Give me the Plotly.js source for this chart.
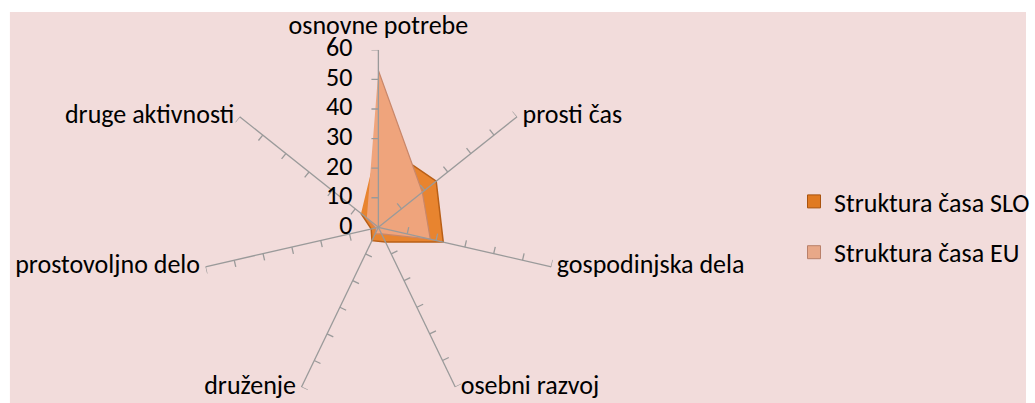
<!DOCTYPE html>
<html>
<head>
<meta charset="utf-8">
<script src="https://cdn.plot.ly/plotly-3.0.1.min.js"></script>
<style>
html,body{margin:0;padding:0;overflow:hidden;background:#fff;}
#chart{width:1035px;height:407px;}
</style>
</head>
<body>
<div id="chart"></div>
<script>
const categories = ['osnovne potrebe','prosti čas','gospodinjska dela','osebni razvoj','druženje','prostovoljno delo','druge aktivnosti'];
const sloValues = [29, 25, 22.5, 5.5, 5, 2.5, 7.5];
const euValues = [53, 19, 18, 2.5, 2.5, 1, 5];
const tickValues = [0, 10, 20, 30, 40, 50, 60];
const seriesNames = ['Struktura časa SLO', 'Struktura časa EU'];

const FONT = 'Carlito, Calibri, Lato, sans-serif';
const FS = 26;
const W = 1035, H = 407;
const cx = 381.7, cy = 227.3, R = 179;
const step = 360 / categories.length;
const thetas = categories.map((c, i) => i * step);
const rMax = tickValues[tickValues.length - 1];

// spokes
const spokeR = [], spokeT = [];
thetas.forEach(t => { spokeR.push(0, rMax, null); spokeT.push(t, t, null); });

// tick marks on every spoke (counterclockwise side)
const tickLen = 7 / R * rMax;
const tkR = [], tkT = [];
thetas.forEach(t => {
  tickValues.filter(v => v > 0).forEach(v => {
    tkR.push(v, Math.sqrt(v * v + tickLen * tickLen), null);
    tkT.push(t, t - Math.atan(tickLen / v) * 180 / Math.PI, null);
  });
});

// side of each category label relative to the spoke end
const labelPos = thetas.map(t => t < 1 ? 'top center' : (t < 180 ? 'middle right' : 'middle left'));
const labelGap = thetas.map(t => t < 1 ? 14 : 7);
const noMarker = {color:'rgba(0,0,0,0)', line:{width:0, color:'rgba(0,0,0,0)'}};

const traces = [
  {type:'scatterpolar', r: sloValues, theta: thetas, mode:'lines', fill:'toself',
   fillcolor:'#E8842F', line:{color:'#B95F17', width:1.5}, showlegend:false, hoverinfo:'skip'},
  {type:'scatterpolar', r: euValues, theta: thetas, mode:'lines', fill:'toself',
   fillcolor:'#EFA47C', line:{color:'#C9876A', width:1.2}, showlegend:false, hoverinfo:'skip'},
  {type:'scatterpolar', r: spokeR, theta: spokeT, mode:'lines', line:{color:'#9A9A9A', width:1.3},
   showlegend:false, hoverinfo:'skip'},
  {type:'scatterpolar', r: tkR, theta: tkT, mode:'lines', line:{color:'#9A9A9A', width:1.3},
   showlegend:false, hoverinfo:'skip'},
  // radial tick labels
  {type:'scatterpolar', r: tickValues, theta: tickValues.map(() => thetas[0]), mode:'markers+text',
   text: tickValues.map(String), textposition:'middle left',
   textfont:{family: FONT, size: FS, color:'#000'},
   marker: Object.assign({size:40}, noMarker), showlegend:false, hoverinfo:'skip', cliponaxis:false},
  // category labels
  {type:'scatterpolar', r: categories.map(() => rMax), theta: thetas, mode:'markers+text',
   text: categories, textposition: labelPos,
   textfont:{family: FONT, size: FS, color:'#000'},
   marker: Object.assign({size: labelGap}, noMarker), showlegend:false, hoverinfo:'skip', cliponaxis:false},
  {type:'scatterpolar', r:[null], theta:[null], mode:'markers', name: seriesNames[0], legendgroup:'a',
   marker:{symbol:'square', size:13, color:'#E07A22', line:{color:'#A9530F', width:1}}},
  {type:'scatterpolar', r:[null], theta:[null], mode:'markers', name: seriesNames[1], legendgroup:'b',
   marker:{symbol:'square', size:13, color:'#E8A888', line:{color:'#B9806A', width:1}}}
];

const layout = {
  width: W, height: H,
  margin:{l:0, r:0, t:0, b:0, pad:0},
  paper_bgcolor:'#ffffff',
  font:{family: FONT, size: FS, color:'#000'},
  showlegend:true,
  legend:{x: 801/W, xanchor:'left', y: 1 - 178/H, yanchor:'top', bgcolor:'rgba(0,0,0,0)',
          font:{family: FONT, size: FS, color:'#000'}, traceorder:'grouped', tracegroupgap:14, itemwidth:30},
  shapes:[{type:'rect', xref:'paper', yref:'paper', x0:10/W, x1:1, y0:0, y1:1 - 12/H,
           fillcolor:'#F2DCDB', line:{width:0}, layer:'below'}],
  polar:{
    domain:{x:[(cx - R)/W, (cx + R)/W], y:[(H - cy - R)/H, (H - cy + R)/H]},
    bgcolor:'rgba(0,0,0,0)',
    angularaxis:{type:'linear', thetaunit:'degrees', rotation:90, direction:'clockwise',
      showgrid:false, showline:false, showticklabels:false, ticks:''},
    radialaxis:{range:[0, rMax], angle:90, showgrid:false, showline:false, showticklabels:false, ticks:''}
  }
};

Plotly.newPlot('chart', traces, layout, {staticPlot:true, displayModeBar:false});
</script>
</body>
</html>
